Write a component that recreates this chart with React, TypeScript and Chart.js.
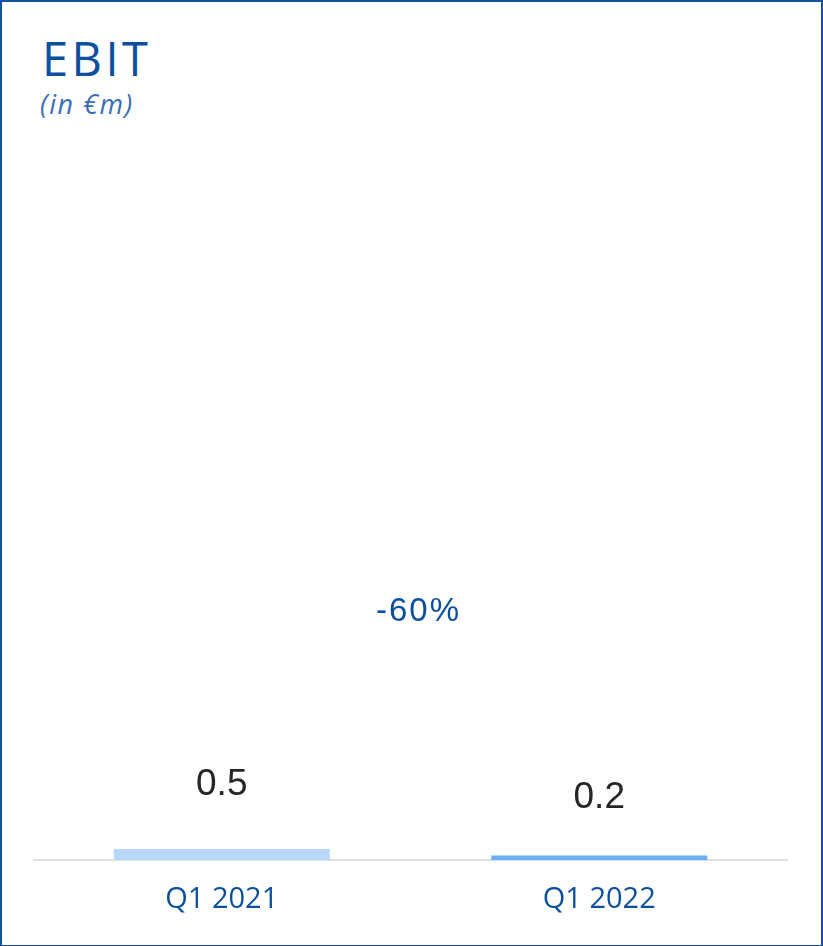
import React, { useEffect, useRef } from "react";
import { Chart, registerables } from "chart.js";

Chart.register(...registerables);

const categories = ["Q1 2021", "Q1 2022"];
const values = [0.5, 0.2];
const valueLabels = ["0.5", "0.2"];
const barColors = ["#b7d8fa", "#68aff5"];
const changeLabel = "-60%";

const BLUE = "#0b4f9e";

const labelsPlugin = {
  id: "valueLabels",
  afterDatasetsDraw(chart: any) {
    const { ctx } = chart;
    const meta = chart.getDatasetMeta(0);
    const y = chart.scales.y;
    ctx.save();
    ctx.textAlign = "center";
    ctx.textBaseline = "middle";
    ctx.fillStyle = "#262626";
    ctx.font = "37px 'Liberation Sans', Arial, sans-serif";
    meta.data.forEach((bar: any, i: number) => {
      ctx.fillText(valueLabels[i], bar.x, y.getPixelForValue(values[i] * 2) - 53);
    });
    const b0 = meta.data[0];
    const b1 = meta.data[1];
    const base = y.getPixelForValue(0);
    ctx.fillStyle = BLUE;
    ctx.font = "33px 'Liberation Sans', Arial, sans-serif";
    (ctx as any).letterSpacing = "2px";
    ctx.fillText(changeLabel, (b0.x + b1.x) / 2 + 8, base - 248);
    ctx.restore();
  },
};

export default function App() {
  const ref = useRef<HTMLCanvasElement | null>(null);
  useEffect(() => {
    document.body.style.margin = "0";
    const chart = new Chart(ref.current as HTMLCanvasElement, {
      type: "bar",
      data: {
        labels: categories,
        datasets: [
          {
            data: values,
            backgroundColor: barColors,
            borderWidth: 0,
            barPercentage: 1,
            categoryPercentage: 0.572,
          },
        ],
      },
      options: {
        animation: false,
        responsive: false,
        maintainAspectRatio: false,
        layout: { padding: 0 },
        plugins: { legend: { display: false }, tooltip: { enabled: false } },
        scales: {
          x: {
            grid: { display: false, drawTicks: false },
            border: { display: true, color: "#e0e0e0", width: 2 },
            ticks: {
              color: BLUE,
              padding: 22,
              font: { family: "'Open Sans', sans-serif", size: 29 },
            },
            afterFit: (scale: any) => {
              scale.height = 80;
            },
          },
          y: {
            display: false,
            min: 0,
            max: 33,
          },
        },
      },
      plugins: [labelsPlugin],
    });
    return () => chart.destroy();
  }, []);

  return (
    <div
      style={{
        position: "fixed",
        left: 0,
        top: 0,
        width: 823,
        height: 946,
        boxSizing: "border-box",
        border: "2px solid #1553a0",
        borderBottomWidth: 1,
        background: "#fff",
        fontFamily: "'Open Sans', sans-serif",
      }}
    >
      <div
        style={{
          position: "absolute",
          left: 40,
          top: 33,
          fontSize: 47,
          lineHeight: 1,
          letterSpacing: 3.5,
          color: BLUE,
          whiteSpace: "nowrap",
        }}
      >
        EBIT
      </div>
      <div
        style={{
          position: "absolute",
          left: 38,
          top: 88,
          fontSize: 27,
          lineHeight: 1,
          letterSpacing: 1.5,
          fontStyle: "italic",
          color: "#3b6eb6",
          whiteSpace: "nowrap",
        }}
      >
        (in €m)
      </div>
      <canvas
        ref={ref}
        width={755}
        height={806}
        style={{ position: "absolute", left: 31, top: 132, width: 755, height: 806 }}
      />
    </div>
  );
}
